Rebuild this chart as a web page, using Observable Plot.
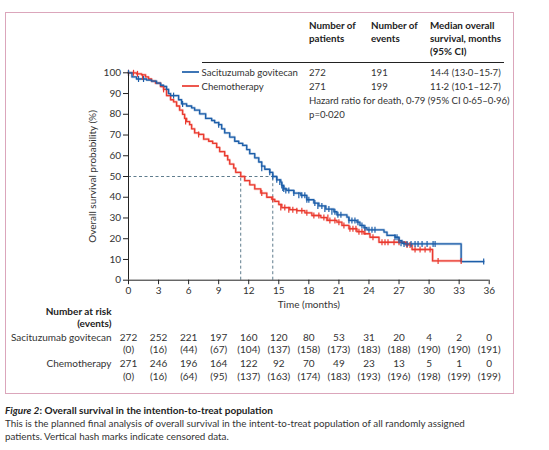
<!DOCTYPE html>
<html>
<head>
<meta charset="utf-8">
<script src="https://cdn.jsdelivr.net/npm/d3@7"></script>
<script src="https://cdn.jsdelivr.net/npm/@observablehq/plot@0.6"></script>
<style>
  body { margin: 0; background: #fff; font-family: Lato, "Open Sans", sans-serif; color: #333; }
  #wrap { position: relative; width: 549px; height: 450px; overflow: hidden; }
  #frame { position: absolute; left: 5px; top: 12px; width: 507px; height: 380px; border: 1px solid #dba6bb; }
  #chart { position: absolute; left: 0; top: 0; }
  .t { position: absolute; font-size: 9.6px; line-height: 13.3px; white-space: nowrap; color: #333; }
  .hd { font-weight: 700; color: #222; font-size: 9.8px; }
  .sw { position: absolute; height: 2px; width: 17px; }
  #rule { position: absolute; left: 202px; top: 62px; width: 302px; height: 1px; background: #222; }
  #cap { position: absolute; left: 5px; top: 403.5px; font-size: 9.8px; line-height: 13px; color: #333; width: 490px; }
  #cap b { color: #222; font-size: 10px; }
</style>
</head>
<body>
<div id="wrap">
  <div id="frame"></div>
  <div id="chart"></div>
  <div id="legend"></div>
  <div id="cap"></div>
</div>
<script>
// ---- data ----
const seriesNames = ["Sacituzumab govitecan", "Chemotherapy"];
const seriesColors = ["#1c5ea9", "#ea3a2f"];
const nPatients = [272, 271];
const nEvents = [191, 199];
const medianText = ["14·4 (13·0–15·7)", "11·2 (10·1–12·7)"];
const medians = [14.4, 11.2];
const hazardText = "Hazard ratio for death, 0·79 (95% CI 0·65–0·96)";
const pText = "p=0·020";

const sgTime = [0,0.35,0.8,1.8,2.3,2.8,3.2,3.5,3.8,4.0,4.2,5.0,5.3,5.8,6.3,6.6,7.1,7.7,8.3,8.6,9.0,9.3,9.6,10.1,10.6,11.0,11.4,11.8,12.1,12.6,13.0,13.3,13.6,14.1,14.4,14.8,15.2,15.3,15.5,15.8,16.5,17.2,17.8,18.5,19.0,19.7,20.5,20.8,21.8,22.0,22.8,23.1,23.5,23.8,25.5,25.8,26.6,27.0,27.3,27.5,33.2,35.45];
const sgSurv = [100,98,97,96.5,96,95,94,93.4,92,90,89,87,85,84,83.1,82,80.2,78,77,76,75,73,71,69,67,66,65,63,61,59,57,55,53.5,52,50,48.4,47.3,45.7,44,43.3,42,40.9,38.8,37.2,35.8,34.3,33,31.5,30.4,28.8,28,26.4,25.3,24.3,23.2,21.6,20.7,19.1,17.8,17.5,9,9];
const chTime = [0,0.8,1.3,1.7,2.0,2.3,2.7,3.2,3.5,3.8,4.2,4.5,4.8,5.1,5.4,5.6,5.8,6.1,6.3,6.6,7.0,7.5,8.0,8.4,8.8,9.1,9.6,9.9,10.1,10.5,10.7,11.2,11.6,12.1,12.6,13.2,13.8,14.3,14.6,15.0,15.3,16.1,16.8,17.6,18.3,19.2,19.8,20.8,21.3,22.0,22.8,23.5,24.1,25.0,27.7,28.3,30.35,33.2];
const chSurv = [100,99.5,99,98,97,96,95,93.4,92,89,87,86,84,82,80,78,76.5,75,73,71,70.3,68,67,66,64,62,60,58,56,54,52,50,48,46,44,42,40,39,38,36.5,35,34,33.5,32.5,31.2,30.2,28.8,28,26.4,24.8,23.4,22.4,20.7,18.3,17,14.8,9.3,9.3];

const sgCensT = [0,1.0,1.5,4.5,5.4,9.0,13.3,14.1,14.4,14.8,15.1,15.3,15.4,15.5,15.7,16.0,16.5,17.0,17.3,17.6,17.8,18.0,18.6,18.9,19.3,19.6,20.0,20.3,20.6,20.9,21.2,22.0,22.3,22.6,22.9,23.3,23.6,24.0,24.3,24.6,26.6,26.8,27.0,27.2,27.5,27.8,28.2,28.6,28.9,29.3,29.8,30.4,30.6,35.45];
const sgCensS = [100,97,97,89,85,75,54,52,50,48.4,47.3,45.7,44.5,44,43.3,43.3,42,40.9,40.9,40.9,38.8,38.8,37.2,35.8,35.8,34.3,34.3,33,33,31.5,31.5,28.8,28.8,28.8,28,26.4,25.3,24.3,24.3,24.3,20.7,20.7,19.1,17.8,17.5,17.5,17.5,17.5,17.5,17.5,17.5,17.5,17.5,9];
const chCensT = [0,0.5,0.9,1.4,3.5,5.7,7.0,13.3,14.4,15.2,15.6,16.0,16.4,16.8,17.3,17.8,18.5,19.0,19.5,19.9,20.1,20.6,21.0,21.5,22.1,22.4,22.7,23.0,23.3,23.6,24.4,25.3,25.6,25.9,26.5,27.0,27.8,28.1,28.6,29.1,29.6,30.1,30.9,33.2];
const chCensS = [100,100,99.5,98,92,76.5,70.3,42,39,35,35,34,34,33.5,33.5,32.5,31.2,31.2,30.2,30.2,28.8,28.8,28,26.4,24.8,24.8,24.8,23.4,23.4,23.4,20.7,18.3,18.3,18.3,18.3,18.3,17,17,14.8,14.8,14.8,14.8,9.3,9.3];

const riskTimes = [0,3,6,9,12,15,18,21,24,27,30,33,36];
const sgAtRisk = [272,252,221,197,160,120,80,53,31,20,4,2,0];
const sgEvents = [0,16,44,67,104,137,158,173,183,188,190,190,191];
const chAtRisk = [271,246,196,164,122,92,70,49,23,13,5,1,0];
const chEvents = [0,16,64,95,137,163,174,183,193,196,198,199,199];
const yTicks = [0,10,20,30,40,50,60,70,80,90,100];

const xLabel = "Time (months)";
const yLabel = "Overall survival probability (%)";
const riskHeader = ["Number at risk", "(events)"];
const captionTitleItalic = "Figure 2";
const captionTitle = ": Overall survival in the intention-to-treat population";
const captionBody = "This is the planned final analysis of overall survival in the intent-to-treat population of all randomly assigned<br>patients. Vertical hash marks indicate censored data.";

// ---- build ----
const curves = [
  ...sgTime.map((t, i) => ({t, s: sgSurv[i], g: seriesNames[0]})),
  ...chTime.map((t, i) => ({t, s: chSurv[i], g: seriesNames[1]}))
];
const cens = [
  ...chCensT.map((t, i) => ({t, s: chCensS[i], g: seriesNames[1]})),
  ...sgCensT.map((t, i) => ({t, s: sgCensS[i], g: seriesNames[0]}))
];
const colorOf = g => seriesColors[seriesNames.indexOf(g)];
const hash = { draw(ctx, size) { const h = Math.sqrt(size / Math.PI); ctx.moveTo(0, -h); ctx.lineTo(0, h); } };

const rowDy = [60.3, 73, 86.5, 99.5];
const fmtEv = n => "(" + n + ")";

const chart = Plot.plot({
  width: 549, height: 395,
  marginLeft: 128, marginRight: 60.3, marginTop: 72.3, marginBottom: 115.3,
  x: {domain: [0, 36]},
  y: {domain: [0, 100]},
  style: {fontFamily: "Lato, 'Open Sans', sans-serif", fontSize: "10px", color: "#333", background: "transparent", overflow: "visible"},
  marks: [
    Plot.ruleY([50], {x1: 0, x2: medians[0], stroke: "#4d6d80", strokeDasharray: "3,2.5", strokeWidth: 0.9}),
    Plot.ruleX(medians, {y1: 0, y2: 50, stroke: "#4d6d80", strokeDasharray: "3,2.5", strokeWidth: 0.9}),
    Plot.line(curves.filter(d => d.g === seriesNames[1]), {x: "t", y: "s", curve: "step-after", stroke: seriesColors[1], strokeWidth: 2.6, strokeOpacity: 0.3}),
    Plot.line(curves.filter(d => d.g === seriesNames[1]), {x: "t", y: "s", curve: "step-after", stroke: seriesColors[1], strokeWidth: 1.3}),
    Plot.line(curves.filter(d => d.g === seriesNames[0]), {x: "t", y: "s", curve: "step-after", stroke: seriesColors[0], strokeWidth: 2.6, strokeOpacity: 0.3}),
    Plot.line(curves.filter(d => d.g === seriesNames[0]), {x: "t", y: "s", curve: "step-after", stroke: seriesColors[0], strokeWidth: 1.3}),
    Plot.dot(cens, {x: "t", y: "s", symbol: hash, r: 3, stroke: d => colorOf(d.g), strokeWidth: 1.2, fill: "none"}),
    Plot.ruleX([0], {stroke: "#222", strokeWidth: 1}),
    Plot.ruleY([0], {stroke: "#222", strokeWidth: 1}),
    Plot.axisY({ticks: yTicks, tickSize: 5, tickPadding: 2.5, label: null, stroke: "#222"}),
    Plot.axisX({ticks: riskTimes, tickSize: 4.5, tickPadding: 2, label: null, stroke: "#222"}),
    Plot.text([yLabel], {frameAnchor: "left", dx: -36, rotate: -90, textAnchor: "middle", fill: "#333"}),
    Plot.text([xLabel], {frameAnchor: "bottom", dy: 27.6, fill: "#333"}),
    Plot.text([riskHeader[0]], {frameAnchor: "bottom-left", dx: -17, dy: 34.5, textAnchor: "end", fontWeight: "bold", fill: "#222"}),
    Plot.text([riskHeader[1]], {frameAnchor: "bottom-left", dx: -17, dy: 47.2, textAnchor: "end", fontWeight: "bold", fill: "#222"}),
    Plot.text([seriesNames[0]], {frameAnchor: "bottom-left", dx: -17, dy: rowDy[0], textAnchor: "end", fill: "#333"}),
    Plot.text([seriesNames[1]], {frameAnchor: "bottom-left", dx: -17, dy: rowDy[2], textAnchor: "end", fill: "#333"}),
    Plot.text(riskTimes, {x: d => d, text: (d, i) => String(sgAtRisk[i]), frameAnchor: "bottom", dy: rowDy[0], fill: "#333"}),
    Plot.text(riskTimes, {x: d => d, text: (d, i) => fmtEv(sgEvents[i]), frameAnchor: "bottom", dy: rowDy[1], fill: "#333"}),
    Plot.text(riskTimes, {x: d => d, text: (d, i) => String(chAtRisk[i]), frameAnchor: "bottom", dy: rowDy[2], fill: "#333"}),
    Plot.text(riskTimes, {x: d => d, text: (d, i) => fmtEv(chEvents[i]), frameAnchor: "bottom", dy: rowDy[3], fill: "#333"})
  ]
});
document.getElementById("chart").appendChild(chart);

// legend table
const lg = document.getElementById("legend");
function addText(txt, left, top, cls) {
  const d = document.createElement("div");
  d.className = "t" + (cls ? " " + cls : "");
  d.style.left = left + "px"; d.style.top = top + "px";
  d.innerHTML = txt;
  lg.appendChild(d);
}
addText("Number of<br>patients", 309, 18.5, "hd");
addText("Number of<br>events", 371, 18.5, "hd");
addText("Median overall<br>survival, months<br>(95% CI)", 430, 18.5, "hd");
const r = document.createElement("div"); r.id = "rule"; lg.appendChild(r);
[0, 1].forEach(i => {
  const top = 65.5 + i * 14;
  const sw = document.createElement("div");
  sw.className = "sw"; sw.style.left = "181.5px"; sw.style.top = (top + 5.5) + "px";
  sw.style.background = seriesColors[i]; sw.style.opacity = 0.85;
  lg.appendChild(sw);
  addText(seriesNames[i], 201.5, top);
  addText(String(nPatients[i]), 309, top);
  addText(String(nEvents[i]), 371, top);
  addText(medianText[i], 430, top);
});
addText(hazardText, 309, 93.5);
addText(pText, 309, 107.5);

document.getElementById("cap").innerHTML =
  "<b><i>" + captionTitleItalic + "</i>" + captionTitle + "</b><br>" + captionBody;
</script>
</body>
</html>
